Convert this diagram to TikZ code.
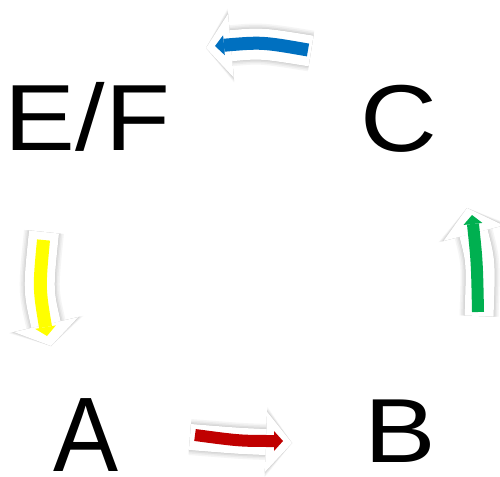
\documentclass[tikz,border=0pt]{standalone}
\usepackage{fontspec}
\usepackage{graphicx}
\setmainfont{Liberation Sans}
\usetikzlibrary{arrows.meta}
\definecolor{arrblue}{RGB}{0,112,192}
\definecolor{arryellow}{RGB}{255,255,0}
\definecolor{arrgreen}{RGB}{0,176,80}
\definecolor{arrred}{RGB}{192,0,0}
% #1 tail, #2 control, #3 tip, #4 shaft width, #5 head width, #6 head length
\newcommand\whitearrow[6]{%
  \foreach \extra/\shade in {10/4, 7/8, 4/13, 1/20}{%
    \pgfmathsetlengthmacro\ww{#4pt+\extra pt}\pgfmathsetlengthmacro\hh{#5pt+\extra pt}%
    \draw[shift={(2,4)}, line width=\ww, draw=black!\shade,
      -{Triangle[width=\hh,length=#6pt,line width=0pt]}] #1 .. controls #2 .. #3;
  }%
  \draw[line width=#4pt, draw=white,
    -{Triangle[width=#5pt,length=#6pt,line width=0pt]}] #1 .. controls #2 .. #3;
}
% #1 tail, #2 control, #3 tip, #4 shaft width, #5 head width, #6 head length, #7 colour
\newcommand\innerarrow[7]{%
  \draw[line width=#4pt, draw=#7,
    -{Triangle[width=#5pt,length=#6pt,line width=0pt]}] #1 .. controls #2 .. #3;
}
\begin{document}
\begin{tikzpicture}[x=1pt,y=-1pt,
  letter/.style={inner sep=0pt, outer sep=0pt, anchor=base, text=black}]
\useasboundingbox[fill=white] (0,0) rectangle (500,476);

% labels
\node[letter] (ef) at (87.5,150) {\fontsize{94}{94}\selectfont\scalebox{1.13}[1]{E/F}};
\node[letter] (c)  at (398.5,151) {\fontsize{95}{95}\selectfont\scalebox{1.12}[1]{C}};
\node[letter] (a)  at (85.8,471) {\fontsize{106}{106}\selectfont\scalebox{0.92}[1]{A}};
\node[letter] (b)  at (400,462) {\fontsize{91}{91}\selectfont\scalebox{1.18}[1]{B}};

% blue arrow (C -> E/F)
\coordinate (bt) at (311,51); \coordinate (bc) at (261,43); \coordinate (bh) at (206,48);
\coordinate (bt2) at (308,50); \coordinate (bc2) at (262,42); \coordinate (bh2) at (215,46);
\whitearrow{(bt)}{(bc)}{(bh)}{31}{64}{25}
\innerarrow{(bt2)}{(bc2)}{(bh2)}{13}{20}{9}{arrblue}

% yellow arrow (E/F -> A)
\coordinate (yt) at (44,232); \coordinate (yc) at (38,290); \coordinate (yh) at (51,346);
\coordinate (yt2) at (43.5,240); \coordinate (yc2) at (39,288); \coordinate (yh2) at (47,336);
\whitearrow{(yt)}{(yc)}{(yh)}{30}{66}{22}
\innerarrow{(yt2)}{(yc2)}{(yh2)}{13}{21}{9}{arryellow}

% green arrow (B -> C)
\coordinate (gt) at (479,316); \coordinate (gc) at (481,262); \coordinate (gh) at (467,208);
\coordinate (gt2) at (478,312); \coordinate (gc2) at (477,262); \coordinate (gh2) at (472,215);
\whitearrow{(gt)}{(gc)}{(gh)}{29}{62}{26}
\innerarrow{(gt2)}{(gc2)}{(gh2)}{12}{19}{9}{arrgreen}

% red arrow (A -> B)
\coordinate (rt) at (190,437); \coordinate (rc) at (240,441); \coordinate (rh) at (292,443);
\coordinate (rt2) at (195,435); \coordinate (rc2) at (240,441); \coordinate (rh2) at (283,441);
\whitearrow{(rt)}{(rc)}{(rh)}{26}{60}{26}
\innerarrow{(rt2)}{(rc2)}{(rh2)}{12}{20}{9}{arrred}
\end{tikzpicture}
\end{document}
